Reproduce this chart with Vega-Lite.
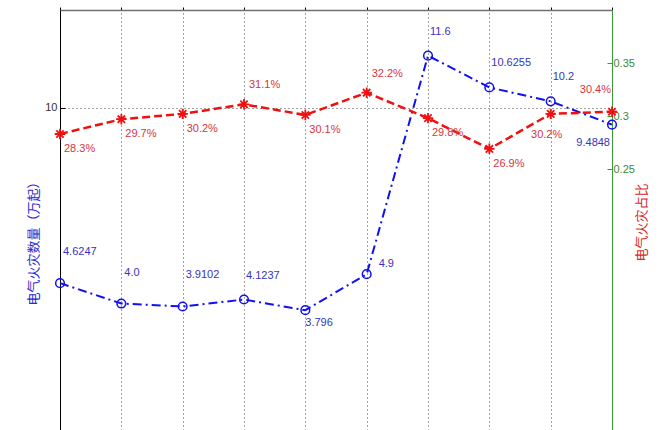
{
  "$schema": "https://vega.github.io/schema/vega-lite/v6.json",
  "autosize": {"type": "none"},
  "padding": {"left": 60, "top": 10, "right": 57, "bottom": 0},
  "width": 552,
  "height": 424,
  "background": "white",
  "config": {
    "view": {"stroke": null},
    "font": "Liberation Sans",
    "axis": {"labelFont": "Liberation Sans", "labelFontSize": 11}
  },
  "data": {
    "values": [
      {"idx": 1, "count": 4.6247, "count_label": "4.6247", "ratio": 0.283},
      {"idx": 2, "count": 4.0, "count_label": "4.0", "ratio": 0.297},
      {"idx": 3, "count": 3.9102, "count_label": "3.9102", "ratio": 0.302},
      {"idx": 4, "count": 4.1237, "count_label": "4.1237", "ratio": 0.311},
      {"idx": 5, "count": 3.796, "count_label": "3.796", "ratio": 0.301},
      {"idx": 6, "count": 4.9, "count_label": "4.9", "ratio": 0.322},
      {"idx": 7, "count": 11.6, "count_label": "11.6", "ratio": 0.298},
      {"idx": 8, "count": 10.6255, "count_label": "10.6255", "ratio": 0.269},
      {"idx": 9, "count": 10.2, "count_label": "10.2", "ratio": 0.302},
      {"idx": 10, "count": 9.4848, "count_label": "9.4848", "ratio": 0.304}
    ]
  },
  "encoding": {
    "x": {
      "field": "idx",
      "type": "quantitative",
      "scale": {"domain": [1, 10], "nice": false, "zero": false},
      "axis": {
        "orient": "top",
        "values": [1, 2, 3, 4, 5, 6, 7, 8, 9, 10],
        "labels": false,
        "title": null,
        "domain": true,
        "domainColor": "#707070",
        "domainWidth": 1.5,
        "ticks": true,
        "tickColor": "#000000",
        "tickSize": 3,
        "grid": true,
        "gridColor": "#444444",
        "gridDash": [1, 3],
        "gridWidth": 1
      }
    }
  },
  "layer": [
    {
      "encoding": {
        "y": {
          "field": "count",
          "type": "quantitative",
          "scale": {"domain": [0, 13], "nice": false, "zero": false},
          "axis": {
            "orient": "left",
            "values": [10],
            "domainColor": "#000000",
            "tickColor": "#000000",
            "tickSize": -5,
            "labelPadding": 8,
            "labelColor": "#333333",
            "grid": true,
            "gridColor": "#444444",
            "gridDash": [1, 3],
            "title": "电气火灾数量（万起）",
            "titleFont": "Noto Sans CJK SC",
            "titleFontSize": 13,
            "titleFontWeight": "normal",
            "titleColor": "#2a2ad0",
            "titlePadding": 4,
            "titleY": 230
          }
        }
      },
      "layer": [
        {
          "mark": {"type": "line", "color": "#1010f0", "strokeWidth": 2, "strokeDash": [9, 4, 2, 4]}
        },
        {
          "mark": {"type": "point", "shape": "circle", "filled": false, "color": "#1010f0", "size": 75, "strokeWidth": 1.5, "opacity": 1}
        },
        {
          "transform": [{"filter": "datum.idx <= 3"}],
          "mark": {"type": "text", "align": "left", "baseline": "middle", "dx": 3, "dy": -31, "fontSize": 11, "color": "#3434c0"},
          "encoding": {"text": {"field": "count_label"}}
        },
        {
          "transform": [{"filter": "datum.idx == 4 || datum.idx == 7 || datum.idx == 8 || datum.idx == 9"}],
          "mark": {"type": "text", "align": "left", "baseline": "middle", "dx": 2, "dy": -24, "fontSize": 11, "color": "#3434c0"},
          "encoding": {"text": {"field": "count_label"}}
        },
        {
          "transform": [{"filter": "datum.idx == 5"}],
          "mark": {"type": "text", "align": "left", "baseline": "middle", "dx": 0, "dy": 13, "fontSize": 11, "color": "#3434c0"},
          "encoding": {"text": {"field": "count_label"}}
        },
        {
          "transform": [{"filter": "datum.idx == 6"}],
          "mark": {"type": "text", "align": "left", "baseline": "middle", "dx": 12, "dy": -10, "fontSize": 11, "color": "#3434c0"},
          "encoding": {"text": {"field": "count_label"}}
        },
        {
          "transform": [{"filter": "datum.idx == 10"}],
          "mark": {"type": "text", "align": "right", "baseline": "middle", "dx": -2, "dy": 18, "fontSize": 11, "color": "#3434c0"},
          "encoding": {"text": {"field": "count_label"}}
        }
      ]
    },
    {
      "encoding": {
        "y": {
          "field": "ratio",
          "type": "quantitative",
          "scale": {"domain": [0, 0.4], "nice": false, "zero": false},
          "axis": {
            "orient": "right",
            "values": [0.25, 0.3, 0.35],
            "format": ".2~f",
            "domainColor": "#3a9a3a",
            "tickColor": "#3a9a3a",
            "tickSize": -5,
            "labelPadding": 6,
            "labelColor": "#3a8a3a",
            "grid": false,
            "title": "电气火灾占比",
            "titleFont": "Noto Sans CJK SC",
            "titleFontSize": 13,
            "titleFontWeight": "normal",
            "titleColor": "#d42a2a",
            "titleAngle": 270,
            "titlePadding": 14
          }
        }
      },
      "layer": [
        {
          "mark": {"type": "line", "color": "#f01010", "strokeWidth": 2.5, "strokeDash": [8, 4]}
        },
        {
          "mark": {
            "type": "point",
            "shape": "M-1,0L1,0M0,-1L0,1M-0.7,-0.7L0.7,0.7M-0.7,0.7L0.7,-0.7",
            "filled": false,
            "color": "#f01010",
            "size": 110,
            "strokeWidth": 1.8,
            "opacity": 1
          }
        },
        {
          "transform": [{"filter": "datum.idx == 1 || datum.idx == 2 || datum.idx == 3 || datum.idx == 5 || datum.idx == 7 || datum.idx == 8"}],
          "mark": {"type": "text", "align": "left", "baseline": "middle", "dx": 4, "dy": 15, "fontSize": 11, "color": "#d8343c"},
          "encoding": {"text": {"field": "ratio", "format": ".1%"}}
        },
        {
          "transform": [{"filter": "datum.idx == 4 || datum.idx == 6"}],
          "mark": {"type": "text", "align": "left", "baseline": "middle", "dx": 5, "dy": -19, "fontSize": 11, "color": "#d8343c"},
          "encoding": {"text": {"field": "ratio", "format": ".1%"}}
        },
        {
          "transform": [{"filter": "datum.idx == 9"}],
          "mark": {"type": "text", "align": "center", "baseline": "middle", "dx": -4, "dy": 21, "fontSize": 11, "color": "#d8343c"},
          "encoding": {"text": {"field": "ratio", "format": ".1%"}}
        },
        {
          "transform": [{"filter": "datum.idx == 10"}],
          "mark": {"type": "text", "align": "right", "baseline": "middle", "dx": -1, "dy": -22, "fontSize": 11, "color": "#d8343c"},
          "encoding": {"text": {"field": "ratio", "format": ".1%"}}
        }
      ]
    }
  ],
  "resolve": {"scale": {"y": "independent"}, "axis": {"y": "independent"}}
}
